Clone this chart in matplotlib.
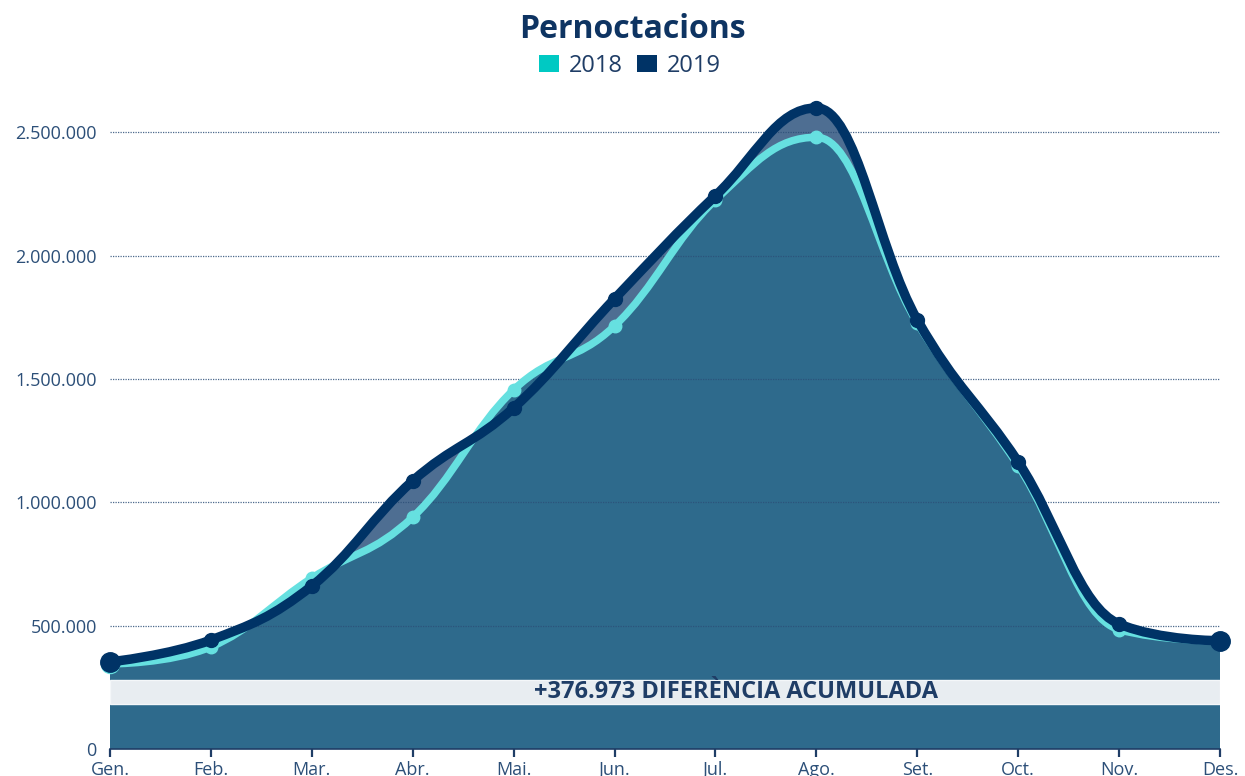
import matplotlib
matplotlib.use("Agg")
import matplotlib.pyplot as plt
from matplotlib.path import Path
from matplotlib.patches import PathPatch, Patch
from matplotlib.ticker import FuncFormatter

plt.rcParams["font.family"] = ["Open Sans", "DejaVu Sans"]

MONTHS = ["Gen.", "Feb.", "Mar.", "Abr.", "Mai.", "Jun.",
          "Jul.", "Ago.", "Set.", "Oct.", "Nov.", "Des."]
VALS_2018 = [345000, 414000, 693000, 940000, 1456000, 1715000,
             2226000, 2480000, 1727000, 1148000, 484000, 438000]
VALS_2019 = [353000, 442000, 661000, 1087000, 1383000, 1825000,
             2243000, 2599000, 1740000, 1164000, 507000, 438973]
Y_TICKS = [0, 500000, 1000000, 1500000, 2000000, 2500000]
BAND = (182000, 280000)
BAND_LABEL = "+376.973 DIFERÈNCIA ACUMULADA"

NAVY = "#003366"
CYAN_LINE = "#66e0e0"
CYAN_KEY = "#00c9c3"
TXT = "#2c4f78"


def spline_path(xs, ys, close=False):
    """Highcharts-style areaspline: cubic bezier with smoothing 1.5."""
    sm = 1.5
    den = sm + 1
    n = len(xs)
    lc = [(x, y) for x, y in zip(xs, ys)]
    rc = [(x, y) for x, y in zip(xs, ys)]
    for i in range(1, n - 1):
        px, py = xs[i], ys[i]
        lx, ly = xs[i - 1], ys[i - 1]
        nx, ny = xs[i + 1], ys[i + 1]
        lcx = (sm * px + lx) / den
        lcy = (sm * py + ly) / den
        rcx = (sm * px + nx) / den
        rcy = (sm * py + ny) / den
        corr = (rcy - lcy) * (rcx - px) / (rcx - lcx) + py - rcy
        lcy += corr
        rcy += corr
        if lcy > ly and lcy > py:
            lcy = max(ly, py); rcy = 2 * py - lcy
        elif lcy < ly and lcy < py:
            lcy = min(ly, py); rcy = 2 * py - lcy
        if rcy > ny and rcy > py:
            rcy = max(ny, py); lcy = 2 * py - rcy
        elif rcy < ny and rcy < py:
            rcy = min(ny, py); lcy = 2 * py - rcy
        lc[i] = (lcx, lcy)
        rc[i] = (rcx, rcy)
    verts = [(xs[0], ys[0])]
    codes = [Path.MOVETO]
    for i in range(1, n):
        verts += [rc[i - 1], lc[i], (xs[i], ys[i])]
        codes += [Path.CURVE4] * 3
    if close:
        verts += [(xs[-1], 0), (xs[0], 0), (xs[0], ys[0])]
        codes += [Path.LINETO, Path.LINETO, Path.CLOSEPOLY]
    return Path(verts, codes)


fig = plt.figure(figsize=(12.45, 7.76), dpi=100)
ax = fig.add_axes([110 / 1245, 1 - 749 / 776, 1110 / 1245, (749 - 83) / 776])
xs = list(range(len(MONTHS)))

# areas: 2019 underneath, 2018 on top, so the gap where 2019 is higher shows
ax.add_patch(PathPatch(spline_path(xs, VALS_2019, close=True),
                       facecolor="#4e6e92", edgecolor="none", zorder=0.5))
ax.add_patch(PathPatch(spline_path(xs, VALS_2018, close=True),
                       facecolor="#2e6a8c", edgecolor="none", zorder=0.6))
ax.axhspan(*BAND, facecolor="#e8edf1", edgecolor="#f4f7f9", linewidth=1, zorder=0.7)
ax.text(6.2, sum(BAND) / 2, BAND_LABEL, ha="center", va="center",
        fontsize=17, fontweight="bold", color="#1f3d66", zorder=4)

ax.add_patch(PathPatch(spline_path(xs, VALS_2018), facecolor="none",
                       edgecolor=CYAN_LINE, linewidth=5.4, capstyle="round",
                       joinstyle="round", zorder=3, clip_on=False))
ax.plot(xs[1:-1], VALS_2018[1:-1], "o", color=CYAN_LINE, markersize=9,
        zorder=3.1, clip_on=False)
ax.plot([xs[0], xs[-1]], [VALS_2018[0], VALS_2018[-1]], "o", color=CYAN_LINE,
        markersize=13, zorder=3.1, clip_on=False)

ax.add_patch(PathPatch(spline_path(xs, VALS_2019), facecolor="none",
                       edgecolor=NAVY, linewidth=6.8, capstyle="round",
                       joinstyle="round", zorder=3.5, clip_on=False))
ax.plot(xs[1:-1], VALS_2019[1:-1], "o", color=NAVY, markersize=10,
        zorder=3.6, clip_on=False)
ax.plot([xs[0], xs[-1]], [VALS_2019[0], VALS_2019[-1]], "o", color=NAVY,
        markersize=14, zorder=3.6, clip_on=False)

ax.set_xlim(0, len(MONTHS) - 1)
ax.set_ylim(0, 2700000)
ax.set_xticks(xs)
ax.set_xticklabels(MONTHS)
ax.set_yticks(Y_TICKS)
ax.yaxis.set_major_formatter(FuncFormatter(lambda v, p: f"{int(v):,}".replace(",", ".")))
ax.tick_params(axis="y", length=0, pad=9.5, labelsize=13, labelcolor=TXT)
ax.tick_params(axis="x", length=6, width=1.6, color="#1f3d66", pad=2.5,
               labelsize=13, labelcolor=TXT)

ax.set_axisbelow(False)
ax.yaxis.grid(True, color="#2c4f78", linewidth=0.9, linestyle=(0, (1, 1)), alpha=0.85)
for s in ("top", "right", "left"):
    ax.spines[s].set_visible(False)
ax.spines["bottom"].set_color("#1f3d66")
ax.spines["bottom"].set_linewidth(1.2)
ax.spines["bottom"].set_zorder(3.2)

fig.text(632 / 1245, 1 - 30 / 776, "Pernoctacions", ha="center", va="center",
         fontsize=23, fontweight="bold", color="#0e3462")
handles = [Patch(facecolor=CYAN_KEY, edgecolor="none", label="2018"),
           Patch(facecolor=NAVY, edgecolor="none", label="2019")]
fig.legend(handles=handles, loc="center", bbox_to_anchor=(630 / 1245, 1 - 66 / 776),
           ncol=2, frameon=False, fontsize=17, labelcolor="#1f3d66",
           handlelength=0.85, handleheight=0.7, handletextpad=0.4, columnspacing=0.6)

fig.savefig("out.png", dpi=100)
